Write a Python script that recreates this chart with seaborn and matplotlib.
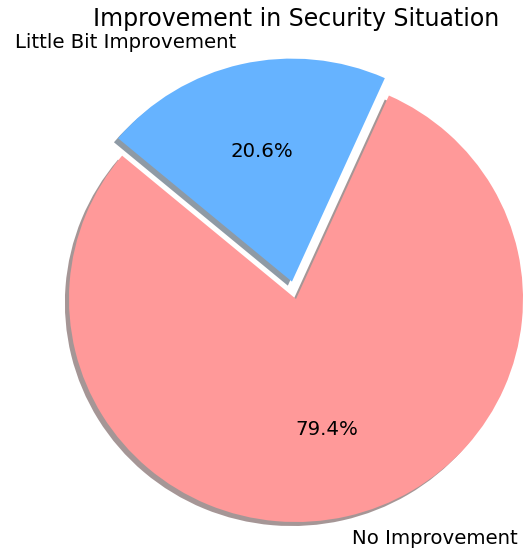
import matplotlib
matplotlib.use("Agg")
import matplotlib.pyplot as plt
import seaborn as sns

# survey answers (share of respondents, %)
labels = ['No Improvement', 'Little Bit Improvement']
sizes = [79.4, 20.6]
colors = ['#ff9999', '#66b3ff']
explode = (0, 0.08)

sns.set_style("white")
plt.rcParams['font.family'] = ['DejaVu Sans']

fig = plt.figure(figsize=(5.23, 5.54), dpi=100)
# axes placed so the pie sits like in the original screenshot
W, H = 523, 554
cx, cy = 296, 299      # pie centre in pixels (from top-left)
rx, ry = 227, 223      # radius in pixels
ax = fig.add_axes([(cx - 1.25 * rx) / W, (H - cy - 1.25 * ry) / H,
                   2.5 * rx / W, 2.5 * ry / H])

ax.pie(sizes, explode=explode, labels=labels, colors=colors,
       autopct='%1.1f%%', startangle=140,
       shadow={'ox': -0.013, 'oy': -0.013},
       wedgeprops={'linewidth': 0, 'edgecolor': 'none'},
       textprops={'fontsize': 14.2, 'color': 'black'})
ax.set_xlim(-1.25, 1.25)
ax.set_ylim(-1.25, 1.25)
ax.set_aspect('auto')

ax.set_title('Improvement in Security Situation', fontsize=17,
             color='black', y=1 - 6 / (2.5 * ry), pad=0)

fig.savefig('out.png', dpi=100)
